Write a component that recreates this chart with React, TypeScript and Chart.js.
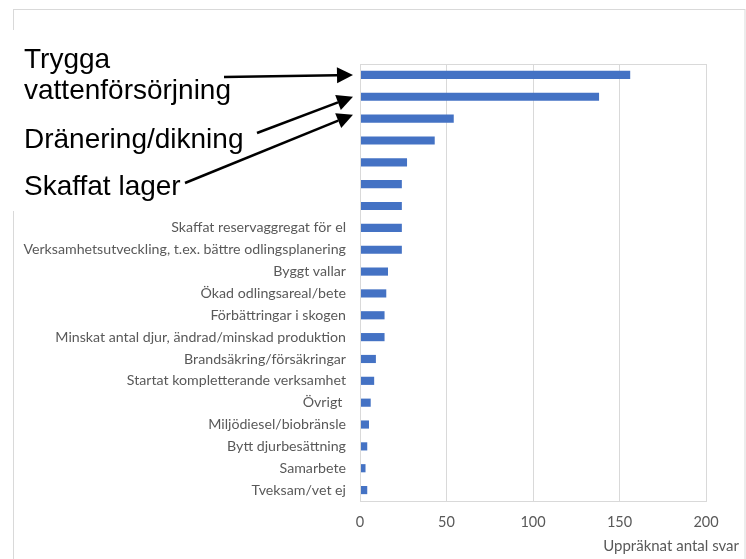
import React, { useEffect, useRef } from "react";
import { Chart, registerables } from "chart.js";

Chart.register(...registerables);

// Categories (labels of rows 4–7 are hidden behind the annotation box in the reference)
const categories: string[] = [
  "Trygga vattenförsörjning",
  "Dränering/dikning",
  "Skaffat lager",
  "",
  "",
  "",
  "",
  "Skaffat reservaggregat för el",
  "Verksamhetsutveckling, t.ex. bättre odlingsplanering",
  "Byggt vallar",
  "Ökad odlingsareal/bete",
  "Förbättringar i skogen",
  "Minskat antal djur, ändrad/minskad produktion",
  "Brandsäkring/försäkringar",
  "Startat kompletterande verksamhet",
  "Övrigt ",
  "Miljödiesel/biobränsle",
  "Bytt djurbesättning",
  "Samarbete",
  "Tveksam/vet ej",
];

const values: number[] = [156, 138, 54, 43, 27, 24, 24, 24, 24, 16, 15, 14, 14, 9, 8, 6, 5, 4, 3, 4];

const xTicks: number[] = [0, 50, 100, 150, 200];
const xAxisTitle = "Uppräknat antal svar";

// Annotation callouts: lines of text and the category index the arrow points at
const calloutLines: string[][] = [["Trygga", "vattenförsörjning"], ["Dränering/dikning"], ["Skaffat lager"]];
const calloutTargets: number[] = [0, 1, 2];

const GRAY_TEXT = "#595959";
const GRID = "#d9d9d9";
const LABEL_FONT = "Lato";

const overlayPlugin = {
  id: "overlay",
  beforeDraw(chart: any) {
    const ctx = chart.ctx as CanvasRenderingContext2D;
    ctx.save();
    ctx.fillStyle = "#ffffff";
    ctx.fillRect(0, 0, chart.width, chart.height);
    ctx.strokeStyle = GRID;
    ctx.lineWidth = 1;
    ctx.strokeRect(13.5, 9.5, 731.5, 600);
    ctx.restore();
  },
  afterDraw(chart: any) {
    const ctx = chart.ctx as CanvasRenderingContext2D;
    const area = chart.chartArea;
    const yScale = chart.scales.y;
    ctx.save();
    // plot frame
    ctx.strokeStyle = GRID;
    ctx.lineWidth = 1;
    ctx.strokeRect(Math.round(area.left) + 0.5, Math.round(area.top) + 0.5, Math.round(area.right - area.left), Math.round(area.bottom - area.top));

    // axis title
    ctx.fillStyle = GRAY_TEXT;
    ctx.font = `15px ${LABEL_FONT}`;
    ctx.textAlign = "right";
    ctx.textBaseline = "middle";
    ctx.fillText(xAxisTitle, 739, 546);

    // white box hiding labels
    ctx.fillStyle = "#ffffff";
    ctx.fillRect(0, 30, 357, 181);

    // callout text
    ctx.fillStyle = "#000000";
    ctx.font = "28px 'Liberation Sans', Arial, sans-serif";
    ctx.textAlign = "left";
    ctx.textBaseline = "alphabetic";
    const baselines = [[68, 99], [148], [195]];
    calloutLines.forEach((lines, i) => {
      lines.forEach((t, j) => ctx.fillText(t, 24, baselines[i][j]));
    });

    // arrows
    const tails = [[224, 77], [257, 133], [185, 183]];
    const tipOffsets = [0, 0, -4];
    ctx.strokeStyle = "#000000";
    ctx.fillStyle = "#000000";
    ctx.lineWidth = 2.5;
    calloutTargets.forEach((idx, i) => {
      const tx = area.left - 7;
      const ty = yScale.getPixelForValue(idx) + tipOffsets[i];
      const [sx, sy] = tails[i];
      const ang = Math.atan2(ty - sy, tx - sx);
      const headLen = 16;
      const headHalf = 8;
      const bx = tx - headLen * Math.cos(ang);
      const by = ty - headLen * Math.sin(ang);
      ctx.beginPath();
      ctx.moveTo(sx, sy);
      ctx.lineTo(bx, by);
      ctx.stroke();
      ctx.beginPath();
      ctx.moveTo(tx, ty);
      ctx.lineTo(bx + headHalf * Math.sin(ang), by - headHalf * Math.cos(ang));
      ctx.lineTo(bx - headHalf * Math.sin(ang), by + headHalf * Math.cos(ang));
      ctx.closePath();
      ctx.fill();
    });
    ctx.restore();
  },
};

export default function App() {
  const ref = useRef<HTMLCanvasElement | null>(null);
  useEffect(() => {
    if (!ref.current) return;
    const chart = new Chart(ref.current, {
      type: "bar",
      data: {
        labels: categories,
        datasets: [
          {
            data: values,
            backgroundColor: "#4472C4",
            borderWidth: 0,
            barThickness: 7.5,
          },
        ],
      },
      options: {
        indexAxis: "y",
        animation: false,
        responsive: false,
        devicePixelRatio: 1,
        layout: { padding: { top: 64, right: 40, left: 0, bottom: 0 } },
        plugins: { legend: { display: false }, tooltip: { enabled: false } },
        scales: {
          x: {
            min: 0,
            max: 200,
            afterBuildTicks: (s: any) => {
              s.ticks = xTicks.map((v) => ({ value: v }));
            },
            afterFit: (s: any) => {
              s.height = 58;
            },
            grid: { color: GRID, drawTicks: false, lineWidth: 1 },
            border: { display: true, color: GRID },
            ticks: { color: GRAY_TEXT, padding: 13, font: { family: LABEL_FONT, size: 14.5 } },
          },
          y: {
            afterFit: (s: any) => {
              s.width = 360;
            },
            grid: { display: false, drawTicks: false },
            border: { display: true, color: GRID },
            ticks: { color: GRAY_TEXT, padding: 14, autoSkip: false, font: { family: LABEL_FONT, size: 14.2 } },
          },
        },
      },
      plugins: [overlayPlugin],
    });
    return () => chart.destroy();
  }, []);
  return (
    <div style={{ position: "fixed", left: 0, top: 0, width: 746, height: 559 }}>
      <canvas ref={ref} width={746} height={559} style={{ width: 746, height: 559 }} />
    </div>
  );
}
